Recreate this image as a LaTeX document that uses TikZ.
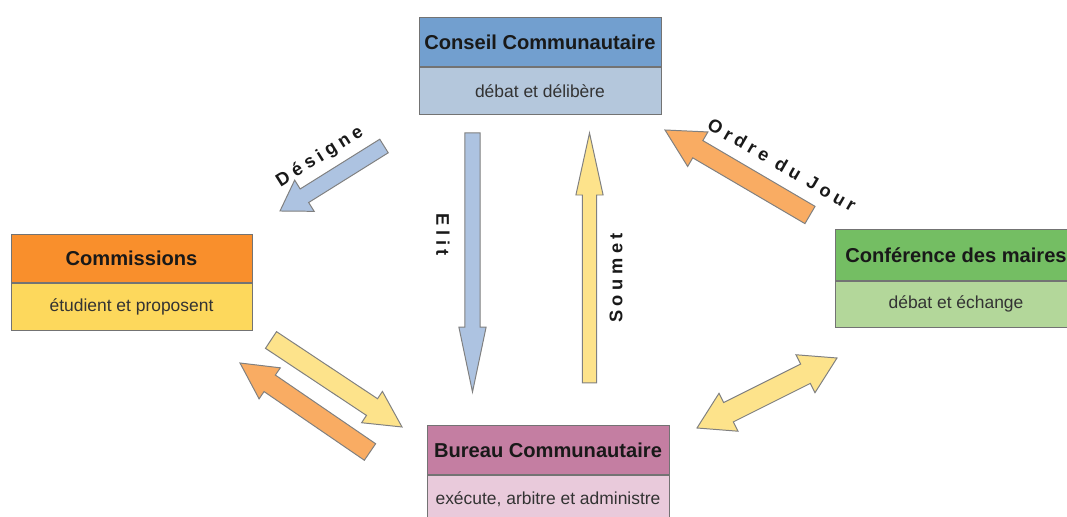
\documentclass[tikz,border=0pt]{standalone}
\usepackage{fontspec}
\setmainfont{Liberation Sans}
\newfontfamily\spacedfont[LetterSpace=25]{Liberation Sans}
\usetikzlibrary{positioning,calc}

\definecolor{conseilH}{HTML}{729FCF}
\definecolor{conseilB}{HTML}{B4C7DC}
\definecolor{commH}{HTML}{F98F2C}
\definecolor{commB}{HTML}{FDD85C}
\definecolor{confH}{HTML}{74BE63}
\definecolor{confB}{HTML}{B3D79A}
\definecolor{bureauH}{HTML}{C47EA2}
\definecolor{bureauB}{HTML}{E9CADB}
\definecolor{arrBlue}{HTML}{ADC3E1}
\definecolor{arrYellow}{HTML}{FDE38B}
\definecolor{arrOrange}{HTML}{F9AC63}

\newcommand{\blockarrow}[6]{%
  \coordinate (hb) at ($(#3)!#6!(#2)$);
  \filldraw[arrline,fill=#1] ($(#2)!#4!90:(#3)$) -- ($(hb)!#4!90:(#3)$) -- ($(hb)!#5!90:(#3)$) -- (#3)
    -- ($(hb)!#5!-90:(#3)$) -- ($(hb)!#4!-90:(#3)$) -- ($(#2)!#4!-90:(#3)$) -- cycle;
}
\newcommand{\dblarrow}[6]{%
  \coordinate (ha) at ($(#2)!#6!(#3)$);
  \coordinate (hb) at ($(#3)!#6!(#2)$);
  \filldraw[arrline,fill=#1] (#2) -- ($(ha)!#5!90:(#3)$) -- ($(ha)!#4!90:(#3)$) -- ($(hb)!#4!90:(#3)$)
    -- ($(hb)!#5!90:(#3)$) -- (#3) -- ($(hb)!#5!-90:(#3)$) -- ($(hb)!#4!-90:(#3)$)
    -- ($(ha)!#4!-90:(#3)$) -- ($(ha)!#5!-90:(#3)$) -- cycle;
}

\begin{document}
\begin{tikzpicture}[x=0.025cm,y=0.025cm]
  \tikzstyle{head}=[rectangle,draw=black!55,line width=0.6pt,minimum width=6.05cm,
              minimum height=1.24cm,inner sep=0pt,text=black!90,
              font=\fontsize{14.3}{16}\selectfont\bfseries]
  \tikzstyle{body}=[rectangle,draw=black!55,line width=0.6pt,minimum width=6.05cm,
              minimum height=1.16cm,inner sep=0pt,text=black!80,
              font=\fontsize{12.4}{14}\selectfont]
  \tikzstyle{arrline}=[draw=black!50,line width=0.7pt,line join=miter]
  \tikzstyle{lbl}=[font=\spacedfont\fontsize{13}{15}\selectfont\bfseries,text=black!90,inner sep=0pt]
    \useasboundingbox (0,0) rectangle (1067,517);
    \clip (0,0) rectangle (1067,517);
    \fill[white] (0,0) rectangle (1067,517);
    \node [head,fill=conseilH] (conseil) at (540,475) {Conseil Communautaire};
    \node [body,fill=conseilB] (conseilb) [below=0pt of conseil] {débat et délibère};
    \node [head,fill=commH,minimum width=6.02cm,minimum height=1.22cm] (comm) at (131.5,258.5) {Commissions};
    \node [body,fill=commB,minimum width=6.02cm,minimum height=1.17cm] (commb) [below=0pt of comm] {étudient et proposent};
    \node [head,fill=confH,minimum height=1.26cm] (conf) at (956,262) {Conférence des maires};
    \node [body,fill=confB,minimum height=1.15cm] (confb) [below=0pt of conf] {débat et échange};
    \node [head,fill=bureauH] (bureau) at (548,67) {Bureau Communautaire};
    \node [body,fill=bureauB] (bureaub) [below=0pt of bureau] {exécute, arbitre et administre};

    \coordinate (desA) at (384,371);
    \coordinate (desB) at (280,306);
    \coordinate (elitA) at (472.5,384);
    \coordinate (elitB) at (472.5,125);
    \coordinate (soumA) at (589.5,134);
    \coordinate (soumB) at (589.5,384);
    \coordinate (ordA) at (810,302);
    \coordinate (ordB) at (665,387);
    \coordinate (cbA) at (271,177);
    \coordinate (cbB) at (402,90);
    \coordinate (bcA) at (370,65);
    \coordinate (bcB) at (240,154);
    \coordinate (dbA) at (697,89);
    \coordinate (dbB) at (837,159);

    \blockarrow{arrBlue}{desA}{desB}{0.2cm}{0.46cm}{0.72cm}
    \blockarrow{arrBlue}{elitA}{elitB}{0.19cm}{0.34cm}{1.62cm}
    \blockarrow{arrYellow}{soumA}{soumB}{0.18cm}{0.34cm}{1.55cm}
    \blockarrow{arrOrange}{ordA}{ordB}{0.25cm}{0.5cm}{0.95cm}
    \blockarrow{arrYellow}{cbA}{cbB}{0.25cm}{0.47cm}{0.9cm}
    \blockarrow{arrOrange}{bcA}{bcB}{0.25cm}{0.47cm}{0.9cm}
    \dblarrow{arrYellow}{dbA}{dbB}{0.27cm}{0.53cm}{0.88cm}

    \node [lbl,rotate=32] (des) at (320,360) {Désigne};
    \node [lbl,rotate=-90] (elit) at (443,282) {Elit};
    \node [lbl,rotate=90] (soum) at (616,239) {Soumet};
    \node [lbl,rotate=-30] (ord) at (782,352) {Ordre du Jour};
\end{tikzpicture}
\end{document}
